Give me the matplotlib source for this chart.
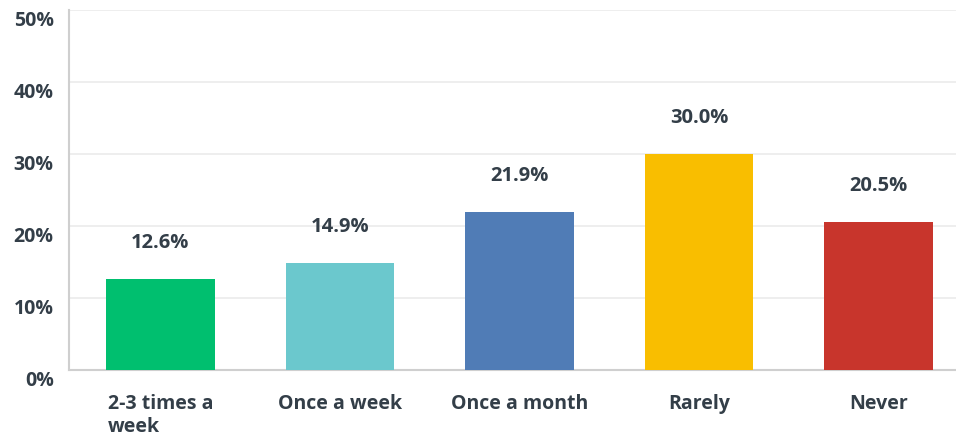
import matplotlib.pyplot as plt
import matplotlib.transforms as mtransforms

categories = ["2-3 times a\nweek", "Once a week", "Once a month", "Rarely", "Never"]
values = [12.6, 14.9, 21.9, 30.0, 20.5]
colors = ["#00BF6F", "#6BC8CD", "#507CB6", "#F9BE00", "#C8352C"]
yticks = [0, 10, 20, 30, 40, 50]

text_color = "#333E48"
plt.rcParams['font.family'] = ['Open Sans', 'DejaVu Sans']

fig = plt.figure(figsize=(9.56, 4.41), dpi=100)
ax = fig.add_axes([0.0722, 0.161, 0.9278, 0.816])

x = list(range(len(categories)))
ax.bar(x, values, width=0.605, color=colors, zorder=3)

for xi, v in zip(x, values):
    ax.annotate(f"{v:.1f}%", (xi, v), xytext=(0, 26), textcoords="offset points",
                ha="center", va="center", fontsize=14.5, fontweight="bold",
                color=text_color)

ax.set_xlim(-0.508, 4.43)
ax.set_ylim(0, 50)
ax.set_yticks(yticks)
ax.set_yticklabels([f"{t}%" for t in yticks])
ax.set_xticks(x)
ax.set_xticklabels(categories, multialignment="left")

ax.grid(axis="y", color="#EBEBEB", linewidth=1.2, zorder=0)
ax.set_axisbelow(True)
for s in ["top", "right"]:
    ax.spines[s].set_visible(False)
ax.spines["left"].set_color("#CFCFCF")
ax.spines["bottom"].set_color("#CFCFCF")
ax.spines["left"].set_linewidth(1.5)
ax.spines["bottom"].set_linewidth(1.5)

ax.tick_params(axis="both", length=0, labelsize=14, labelcolor=text_color)
ax.tick_params(axis="y", pad=11)
ax.tick_params(axis="x", pad=17)
for lbl in ax.get_yticklabels() + ax.get_xticklabels():
    lbl.set_fontweight("bold")

off = mtransforms.ScaledTranslation(0, -6 / 72, fig.dpi_scale_trans)
for lbl in ax.get_yticklabels():
    lbl.set_transform(lbl.get_transform() + off)

fig.savefig("out.png", dpi=100)
